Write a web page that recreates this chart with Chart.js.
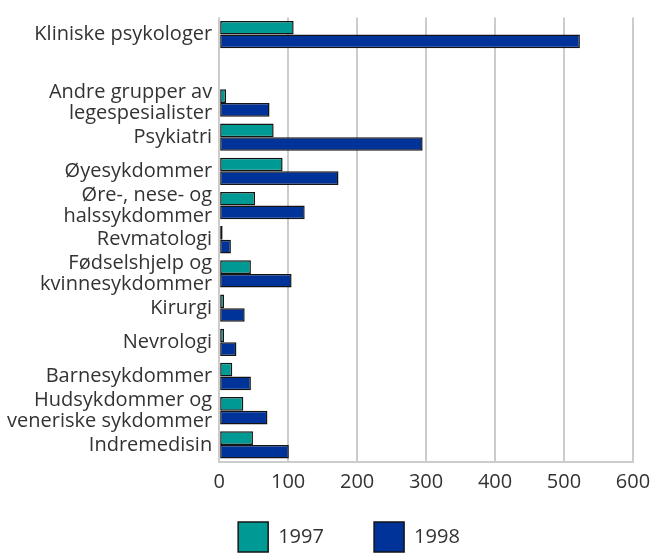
<!DOCTYPE html>
<html>
<head>
<meta charset="utf-8">
<script src="https://cdn.jsdelivr.net/npm/chart.js@4.4.0/dist/chart.umd.min.js"></script>
<style>
    html, body { margin: 0; padding: 0; background: #fff; overflow: hidden; }
    #wrap { position: relative; width: 653px; height: 562px; }
</style>
</head>
<body>
<div id="wrap"><canvas id="chart"></canvas></div>
<script>
// Kategorier, ovenfra og ned (tom rad etter kliniske psykologer)
const categories = [
    'Kliniske psykologer',
    '',
    ['Andre grupper av', 'legespesialister'],
    'Psykiatri',
    'Øyesykdommer',
    ['Øre-, nese- og', 'halssykdommer'],
    'Revmatologi',
    ['Fødselshjelp og', 'kvinnesykdommer'],
    'Kirurgi',
    'Nevrologi',
    'Barnesykdommer',
    ['Hudsykdommer og', 'veneriske sykdommer'],
    'Indremedisin'
];
const values1997 = [108, null, 10, 79, 92, 52, 5, 46, 7, 7, 19, 35, 49];
const values1998 = [523, null, 73, 295, 173, 124, 17, 105, 37, 25, 46, 70, 101];
const seriesNames = ['1997', '1998'];
const xTicks = [0, 100, 200, 300, 400, 500, 600];

const fontFamily = '"Open Sans", "Noto Sans", sans-serif';
const textColor = '#333333';
const gridColor = '#cccccc';

document.addEventListener('DOMContentLoaded', () => {
    const ctx = document.getElementById('chart');

    new Chart(ctx, {
        type: 'bar',
        data: {
            labels: categories,
            datasets: [
                {
                    label: seriesNames[0],
                    data: values1997,
                    backgroundColor: '#009a94',
                    borderColor: '#141414',
                    borderWidth: 1.5,
                    borderSkipped: false
                },
                {
                    label: seriesNames[1],
                    data: values1998,
                    backgroundColor: '#003399',
                    borderColor: '#141414',
                    borderWidth: 1.5,
                    borderSkipped: false
                }
            ]
        },
        options: {
            indexAxis: 'y',
            responsive: true,
            maintainAspectRatio: false,
            animation: false,
            datasets: {
                bar: { barPercentage: 1.0, categoryPercentage: 0.8 }
            },
            layout: {
                padding: { top: 15, right: 20, left: 0, bottom: 0 }
            },
            scales: {
                x: {
                    min: 0,
                    max: 600,
                    afterBuildTicks: (scale) => {
                        scale.ticks = xTicks.map(v => ({ value: v }));
                    },
                    afterFit: (scale) => {
                        scale.height = 41;
                        // la layout-paddingen styre høyre kant
                        scale.paddingRight = 0;
                        scale.paddingLeft = 0;
                    },
                    grid: { color: gridColor, lineWidth: 2, drawTicks: false },
                    border: { display: true, color: gridColor, width: 2 },
                    ticks: {
                        padding: 8,
                        color: textColor,
                        font: { family: fontFamily, size: 20 }
                    }
                },
                y: {
                    grid: { display: false, drawTicks: false },
                    border: { display: false },
                    ticks: {
                        padding: 7,
                        color: textColor,
                        autoSkip: false,
                        font: { family: fontFamily, size: 20, lineHeight: 1.05 }
                    }
                }
            },
            plugins: {
                tooltip: { enabled: false },
                legend: {
                    position: 'bottom',
                    align: 'start',
                    fullSize: false,
                    labels: {
                        boxWidth: 30,
                        boxHeight: 30,
                        padding: 19,
                        color: textColor,
                        font: { family: fontFamily, size: 20 },
                        generateLabels: (chart) => {
                            const items = Chart.defaults.plugins.legend.labels.generateLabels(chart);
                            // litt ekstra luft etter første element
                            items[0].text = items[0].text + '      ';
                            return items;
                        }
                    }
                }
            }
        }
    });
});
</script>
</body>
</html>
